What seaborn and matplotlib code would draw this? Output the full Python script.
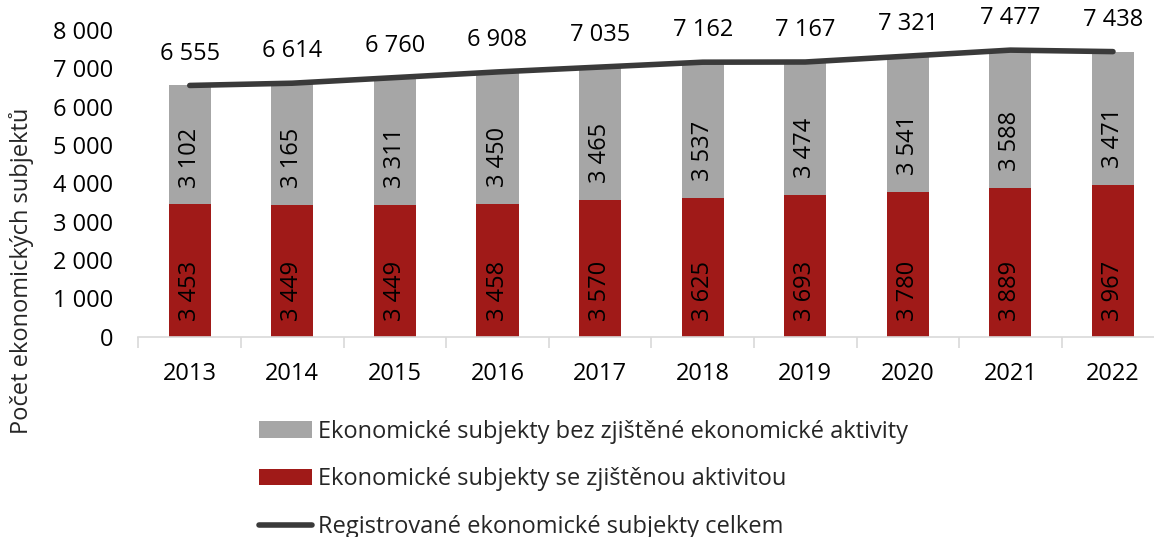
import numpy as np
import pandas as pd
import matplotlib
matplotlib.use("Agg")
import matplotlib.pyplot as plt
import seaborn as sns
from matplotlib.patches import Patch
from matplotlib.lines import Line2D

years = ["2013", "2014", "2015", "2016", "2017", "2018", "2019", "2020", "2021", "2022"]
active = [3453, 3449, 3449, 3458, 3570, 3625, 3693, 3780, 3889, 3967]
inactive = [3102, 3165, 3311, 3450, 3465, 3537, 3474, 3541, 3588, 3471]
totals = [6555, 6614, 6760, 6908, 7035, 7162, 7167, 7321, 7477, 7438]

lab_inactive = "Ekonomické subjekty bez zjištěné ekonomické aktivity"
lab_active = "Ekonomické subjekty se zjištěnou aktivitou"
lab_total = "Registrované ekonomické subjekty celkem"

RED = "#A01A18"
GRAY = "#A6A6A6"
LINE = "#3A3A3A"
FS = 17


def fmt(v):
    return f"{v:,}".replace(",", " ")


sns.set_theme(style="white")
plt.rcParams["font.family"] = ["Open Sans", "DejaVu Sans"]

df = pd.DataFrame({"year": years, "active": active, "inactive": inactive, "total": totals})

fig = plt.figure(figsize=(11.54, 5.37), dpi=100)
ax = fig.add_axes([0.12, 0.373, 0.88, 0.571])

# stacked bars
sns.barplot(data=df, x="year", y="active", color=RED, width=0.41, ax=ax,
            saturation=1, linewidth=0)
sns.barplot(data=df, x="year", y="inactive", bottom=df["active"], color=GRAY,
            width=0.41, ax=ax, saturation=1, linewidth=0)

pos = np.arange(len(years))
ax.plot(pos, totals, color=LINE, lw=4, solid_capstyle="round", zorder=5)

# labels inside bars (from base) and totals above the line
for i in range(len(years)):
    ax.annotate(fmt(active[i]), (pos[i], 0), xytext=(0, 11), textcoords="offset points",
                rotation=90, ha="center", va="bottom", fontsize=FS, color="black")
    ax.annotate(fmt(inactive[i]), (pos[i], active[i]), xytext=(0, 12), textcoords="offset points",
                rotation=90, ha="center", va="bottom", fontsize=FS, color="black")
    ax.annotate(fmt(totals[i]), (pos[i], totals[i]), xytext=(0, 23), textcoords="offset points",
                ha="center", va="center", fontsize=FS, color="black")

ax.set_ylim(0, 8000)
ax.set_xlim(-0.5, 9.4)
ax.set_yticks(np.arange(0, 8001, 1000))
ax.set_yticklabels([fmt(v) for v in range(0, 8001, 1000)])
ax.set_xlabel("")
ax.set_ylabel("")
ax.tick_params(axis="both", labelsize=FS, colors="black", length=0)
ax.tick_params(axis="y", pad=18)
ax.tick_params(axis="x", pad=18)
ax.set_xticks(np.arange(-0.5, 9.5, 1.0), minor=True)
ax.tick_params(axis="x", which="minor", length=8, width=1.2, color="#D9D9D9", bottom=True)

for s in ["top", "right", "left"]:
    ax.spines[s].set_visible(False)
ax.spines["bottom"].set_color("#D9D9D9")
ax.spines["bottom"].set_linewidth(1.2)

fig.text(0.019, 0.495, "Počet ekonomických subjektů", rotation=90, ha="center",
         va="center", fontsize=FS)

handles = [
    Patch(facecolor=GRAY, edgecolor="none", label=lab_inactive),
    Patch(facecolor=RED, edgecolor="none", label=lab_active),
    Line2D([0], [0], color=LINE, lw=4, solid_capstyle="round", label=lab_total),
]
fig.legend(handles=handles, loc="lower left", bbox_to_anchor=(0.206, -0.043), ncol=1,
           frameon=False, fontsize=FS, labelspacing=1.0, handlelength=2.25,
           handleheight=0.7, handletextpad=0.25)

fig.savefig("out.png", dpi=100)
